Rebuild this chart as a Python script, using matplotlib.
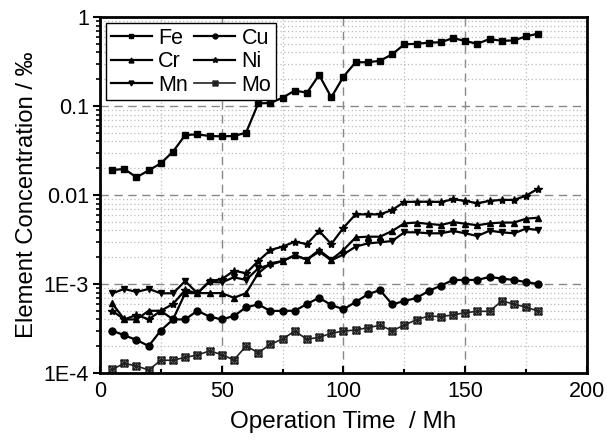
import matplotlib
matplotlib.use("Agg")
import matplotlib.pyplot as plt
from matplotlib.ticker import FixedLocator, FixedFormatter, NullFormatter, LogLocator
from matplotlib.path import Path
import numpy as np

plt.rcParams['font.family'] = ['Liberation Sans', 'DejaVu Sans']

time = list(range(5, 185, 5))

fe = [0.0191, 0.0196, 0.0158, 0.0189, 0.0227, 0.0307, 0.0472, 0.0480, 0.0460, 0.0456,
      0.0460, 0.0501, 0.107, 0.108, 0.124, 0.149, 0.141, 0.223, 0.125, 0.214,
      0.310, 0.310, 0.322, 0.381, 0.493, 0.500, 0.515, 0.520, 0.580, 0.537,
      0.500, 0.566, 0.540, 0.545, 0.607, 0.650]
cu = [2.99e-4, 2.65e-4, 2.35e-4, 2.01e-4, 3.0e-4, 4.0e-4, 4.0e-4, 5.0e-4, 4.3e-4, 4.0e-4,
      4.37e-4, 5.47e-4, 5.9e-4, 4.97e-4, 5.0e-4, 5.0e-4, 5.96e-4, 7.0e-4, 5.8e-4, 5.2e-4,
      6.28e-4, 7.65e-4, 8.56e-4, 5.9e-4, 6.44e-4, 6.96e-4, 8.34e-4, 9.58e-4, 1.11e-3, 1.11e-3,
      1.11e-3, 1.2e-3, 1.15e-3, 1.11e-3, 1.05e-3, 1.0e-3]
cr = [6.07e-4, 4.0e-4, 4.0e-4, 5.0e-4, 5.0e-4, 4.0e-4, 7.9e-4, 7.9e-4, 7.9e-4, 7.9e-4,
      7.0e-4, 7.9e-4, 1.32e-3, 1.71e-3, 1.81e-3, 2.1e-3, 1.88e-3, 2.41e-3, 1.88e-3, 2.41e-3,
      3.34e-3, 3.4e-3, 3.4e-3, 3.94e-3, 4.8e-3, 4.9e-3, 4.73e-3, 4.6e-3, 4.96e-3, 4.76e-3,
      4.57e-3, 4.8e-3, 4.9e-3, 4.9e-3, 5.42e-3, 5.56e-3]
ni = [5.0e-4, 4.0e-4, 4.49e-4, 4.0e-4, 5.0e-4, 5.96e-4, 8.56e-4, 7.86e-4, 1.08e-3, 1.13e-3,
      1.41e-3, 1.32e-3, 1.81e-3, 2.41e-3, 2.63e-3, 2.99e-3, 2.81e-3, 3.94e-3, 2.81e-3, 4.29e-3,
      6.06e-3, 6.06e-3, 6.06e-3, 6.78e-3, 8.35e-3, 8.4e-3, 8.4e-3, 8.35e-3, 8.94e-3, 8.6e-3,
      8.06e-3, 8.6e-3, 8.8e-3, 8.8e-3, 9.83e-3, 1.18e-2]
mn = [7.86e-4, 8.79e-4, 8.13e-4, 8.8e-4, 7.86e-4, 7.86e-4, 1.08e-3, 7.86e-4, 1.06e-3, 1.04e-3,
      1.19e-3, 1.11e-3, 1.5e-3, 1.65e-3, 1.81e-3, 2.1e-3, 1.88e-3, 2.31e-3, 1.84e-3, 2.15e-3,
      2.63e-3, 2.86e-3, 2.94e-3, 3.04e-3, 3.81e-3, 3.81e-3, 3.71e-3, 3.71e-3, 3.94e-3, 3.71e-3,
      3.46e-3, 3.97e-3, 3.81e-3, 3.71e-3, 4.19e-3, 4.04e-3]
mo = [1.1e-4, 1.28e-4, 1.2e-4, 1.08e-4, 1.39e-4, 1.39e-4, 1.5e-4, 1.59e-4, 1.77e-4, 1.61e-4,
      1.4e-4, 2.01e-4, 1.69e-4, 2.1e-4, 2.41e-4, 2.96e-4, 2.39e-4, 2.52e-4, 2.79e-4, 2.96e-4,
      3.04e-4, 3.23e-4, 3.43e-4, 2.99e-4, 3.45e-4, 3.97e-4, 4.37e-4, 4.3e-4, 4.49e-4, 4.76e-4,
      4.93e-4, 4.93e-4, 6.44e-4, 5.96e-4, 5.47e-4, 4.97e-4]

y_ticks = [1e-4, 1e-3, 1e-2, 1e-1, 1]
y_tick_labels = ["1E-4", "1E-3", "0.01", "0.1", "1"]
x_ticks = [0, 50, 100, 150, 200]

# boxed asterisk marker for Mo
_v = [(-1, -1), (1, -1), (1, 1), (-1, 1), (-1, -1),
      (-1, -1), (1, 1), (-1, 1), (1, -1), (0, -1), (0, 1), (-1, 0), (1, 0)]
_c = [Path.MOVETO, Path.LINETO, Path.LINETO, Path.LINETO, Path.CLOSEPOLY,
      Path.MOVETO, Path.LINETO, Path.MOVETO, Path.LINETO, Path.MOVETO, Path.LINETO,
      Path.MOVETO, Path.LINETO]
box_ast = Path(_v, _c)

fig = plt.figure(figsize=(6.07, 4.46), dpi=100)
ax = fig.add_axes([0.1647, 0.1637, 0.8023, 0.7982])

ax.plot(time, fe, marker='s', label='Fe', color='black', lw=1.6, markersize=5)
ax.plot(time, cr, marker='^', label='Cr', color='black', lw=1.6, markersize=5)
ax.plot(time, mn, marker='v', label='Mn', color='black', lw=1.6, markersize=5)
ax.plot(time, cu, marker='o', label='Cu', color='black', lw=1.6, markersize=5)
ax.plot(time, ni, marker='*', label='Ni', color='black', lw=1.6, markersize=6)
ax.plot(time, mo, marker=box_ast, label='Mo', color='#222222', lw=1.2, markersize=5,
        markeredgewidth=1.0, markerfacecolor='none')

ax.set_yscale('log')
ax.set_xlim(0, 200)
ax.set_ylim(1e-4, 1)
ax.xaxis.set_major_locator(FixedLocator(x_ticks))
ax.xaxis.set_minor_locator(FixedLocator([25, 75, 125, 175]))
ax.yaxis.set_major_locator(FixedLocator(y_ticks))
ax.yaxis.set_major_formatter(FixedFormatter(y_tick_labels))
ax.yaxis.set_minor_locator(LogLocator(base=10, subs=np.arange(2, 10)))
ax.yaxis.set_minor_formatter(NullFormatter())

ax.grid(which='major', color='#888888', linestyle=(0, (6, 4)), lw=1.0)
ax.grid(which='minor', color='#bbbbbb', linestyle=(0, (1, 2)), lw=0.9)
ax.set_axisbelow(True)

for s in ax.spines.values():
    s.set_linewidth(2)
ax.tick_params(axis='x', which='both', direction='in', labelsize=15.5, width=1.5, length=5, pad=6)
ax.tick_params(axis='x', which='minor', length=3)
ax.tick_params(axis='y', which='major', direction='out', labelsize=15.5, width=1.5, length=5, pad=3)
ax.tick_params(axis='y', which='minor', direction='out', width=1.2, length=3)

ax.set_xlabel('Operation Time  / Mh', fontsize=17.5, labelpad=6)
ax.set_ylabel('Element Concentration / ‰', fontsize=17.2, labelpad=4)

leg = ax.legend(loc='upper left', ncol=2, fontsize=15.5, frameon=True, fancybox=False,
                edgecolor='black', framealpha=1, markerscale=0.7, handlelength=1.9,
                columnspacing=0.3, handletextpad=0.3, labelspacing=0.12,
                borderpad=0.2, borderaxespad=0.3)
leg.get_frame().set_linewidth(1.0)

fig.savefig('out.png', dpi=100)
